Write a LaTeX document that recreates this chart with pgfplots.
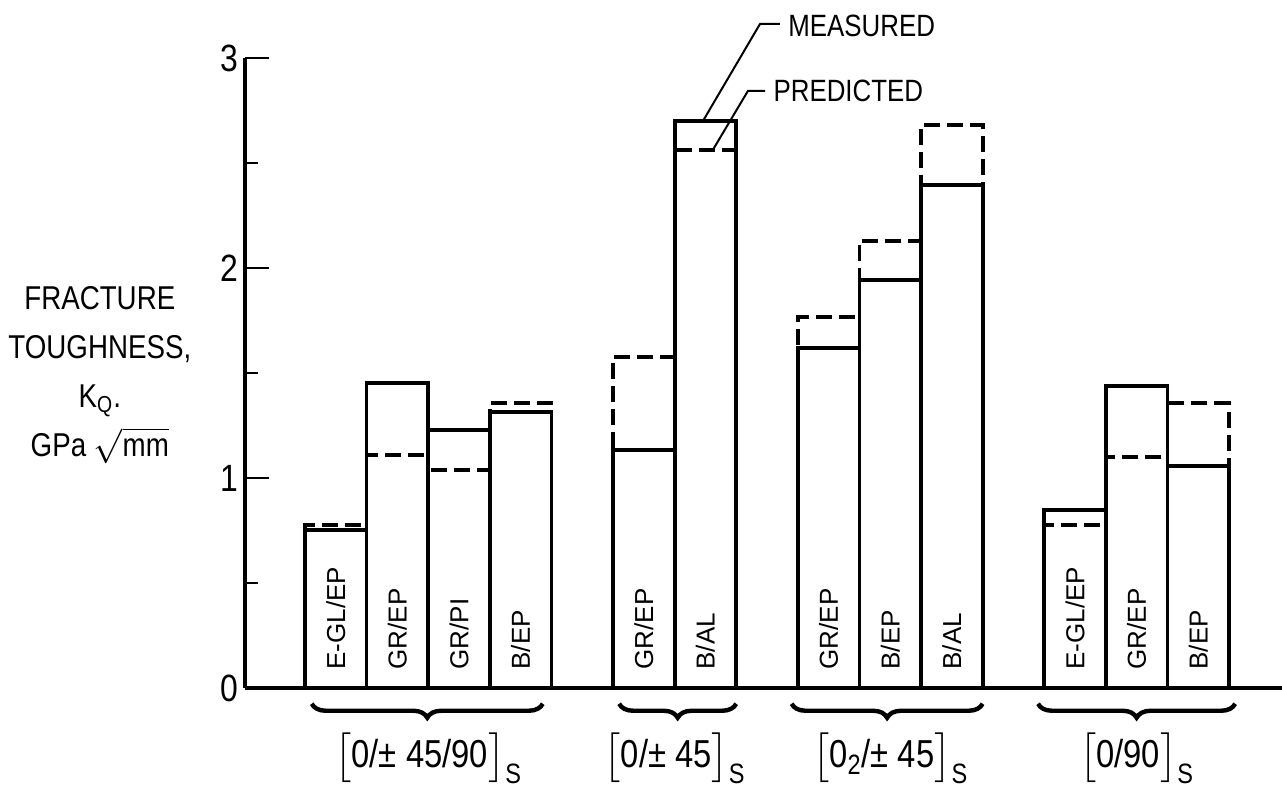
\documentclass[border=0pt]{standalone}
\usepackage{amsmath}
\usepackage{fontspec}
\setmainfont{Liberation Sans}[FakeStretch=0.84]
\newfontfamily\barfont{Liberation Sans}
\usepackage{pgfplots}
\usepackage{pgfplotstable}
\pgfplotsset{compat=1.18}
\usetikzlibrary{decorations.pathreplacing}

\pgfplotstableread{
x m p
0 0.752 0.775
1 1.452 1.110
2 1.229 1.038
3 1.313 1.356
5 1.133 1.576
6 2.701 2.562
8 1.619 1.767
9 1.943 2.130
10 2.395 2.681
12 0.848 0.776
13 1.438 1.101
14 1.057 1.356
}\datatable

\newcommand{\sub}[1]{\mbox{\fontsize{14}{14}\selectfont #1}}

\begin{document}
\begin{tikzpicture}
\path[use as bounding box] (-122.5pt,-50.5pt) rectangle (518.5pt,344pt);
\begin{axis}[
  scale only axis, width=518.5pt, height=315pt,
  xmin=-1.474, xmax=15.36, ymin=0, ymax=3,
  axis x line=bottom, axis y line=left,
  axis line style={-, line width=1.6pt},
  xtick=\empty,
  ytick={0,1,2,3}, minor ytick={0.5,1.5,2.5},
  tick align=inside, major tick length=12pt, minor tick length=6.5pt,
  every tick/.style={line width=1.2pt, black},
  yticklabel style={font=\fontsize{19}{19}\selectfont},
  /pgf/number format/assume math mode=true,
  ylabel={FRACTURE\\TOUGHNESS,\\K$_{\text{Q}}$.\\GPa $\sqrt{\text{mm}}$},
  ylabel style={rotate=-90, align=center, font=\fontsize{16.5}{24.5}\selectfont,
    at={(axis description cs:-0.14,0.497)}, anchor=center},
  clip=false,
]
\addplot[ybar, bar width=1, bar shift=0pt, draw=black, fill=none, line width=1.9pt,
  dash pattern=on 8pt off 3.5pt] table[x=x, y=p] {\datatable};
\addplot[ybar, bar width=1, bar shift=0pt, draw=black, fill=none, line width=1.9pt,
  line join=miter] table[x=x, y=m] {\datatable};

% bar labels
\tikzset{bl/.style={rotate=90, anchor=west, inner sep=0pt, font=\barfont\fontsize{13}{13}\selectfont}}
\node[bl] at (axis cs:0,0.086) {E-GL/EP};
\node[bl] at (axis cs:1,0.086) {GR/EP};
\node[bl] at (axis cs:2,0.086) {GR/PI};
\node[bl] at (axis cs:3,0.086) {B/EP};
\node[bl] at (axis cs:5,0.086) {GR/EP};
\node[bl] at (axis cs:6,0.086) {B/AL};
\node[bl] at (axis cs:8,0.086) {GR/EP};
\node[bl] at (axis cs:9,0.086) {B/EP};
\node[bl] at (axis cs:10,0.086) {B/AL};
\node[bl] at (axis cs:12,0.086) {E-GL/EP};
\node[bl] at (axis cs:13,0.086) {GR/EP};
\node[bl] at (axis cs:14,0.086) {B/EP};

% braces
\tikzset{br/.style={decorate, decoration={brace, mirror, amplitude=7pt}, line width=2.2pt}}
\draw[br] (axis cs:-0.39,-0.075) -- (axis cs:3.36,-0.075);
\draw[br] (axis cs:4.6,-0.075) -- (axis cs:6.5,-0.075);
\draw[br] (axis cs:7.4,-0.075) -- (axis cs:10.5,-0.075);
\draw[br] (axis cs:11.4,-0.075) -- (axis cs:14.6,-0.075);

% group labels
\tikzset{gl/.style={font=\fontsize{19.5}{19.5}\selectfont, inner sep=0pt}}
\node[gl] at (axis cs:1.5,-0.335) {$\bigl[\text{0/± 45/90}\bigr]_{\sub{S}}$};
\node[gl] at (axis cs:5.5,-0.335) {$\bigl[\text{0/± 45}\bigr]_{\sub{S}}$};
\node[gl] at (axis cs:9,-0.335) {$\bigl[\text{0}_{\sub{2}}\text{/± 45}\bigr]_{\sub{S}}$};
\node[gl] at (axis cs:13,-0.335) {$\bigl[\text{0/90}\bigr]_{\sub{S}}$};

% annotations
\draw[line width=1pt] (axis cs:5.96,2.70) -- (axis cs:6.886,3.162) -- (axis cs:7.21,3.162);
\node[anchor=west, inner sep=0pt, font=\fontsize{15.4}{15.4}\selectfont] at (axis cs:7.34,3.155) {MEASURED};
\draw[line width=1pt] (axis cs:6.12,2.562) -- (axis cs:6.69,2.843) -- (axis cs:6.97,2.843);
\node[anchor=west, inner sep=0pt, font=\fontsize{15.4}{15.4}\selectfont] at (axis cs:7.10,2.843) {PREDICTED};
\end{axis}
\end{tikzpicture}
\end{document}
